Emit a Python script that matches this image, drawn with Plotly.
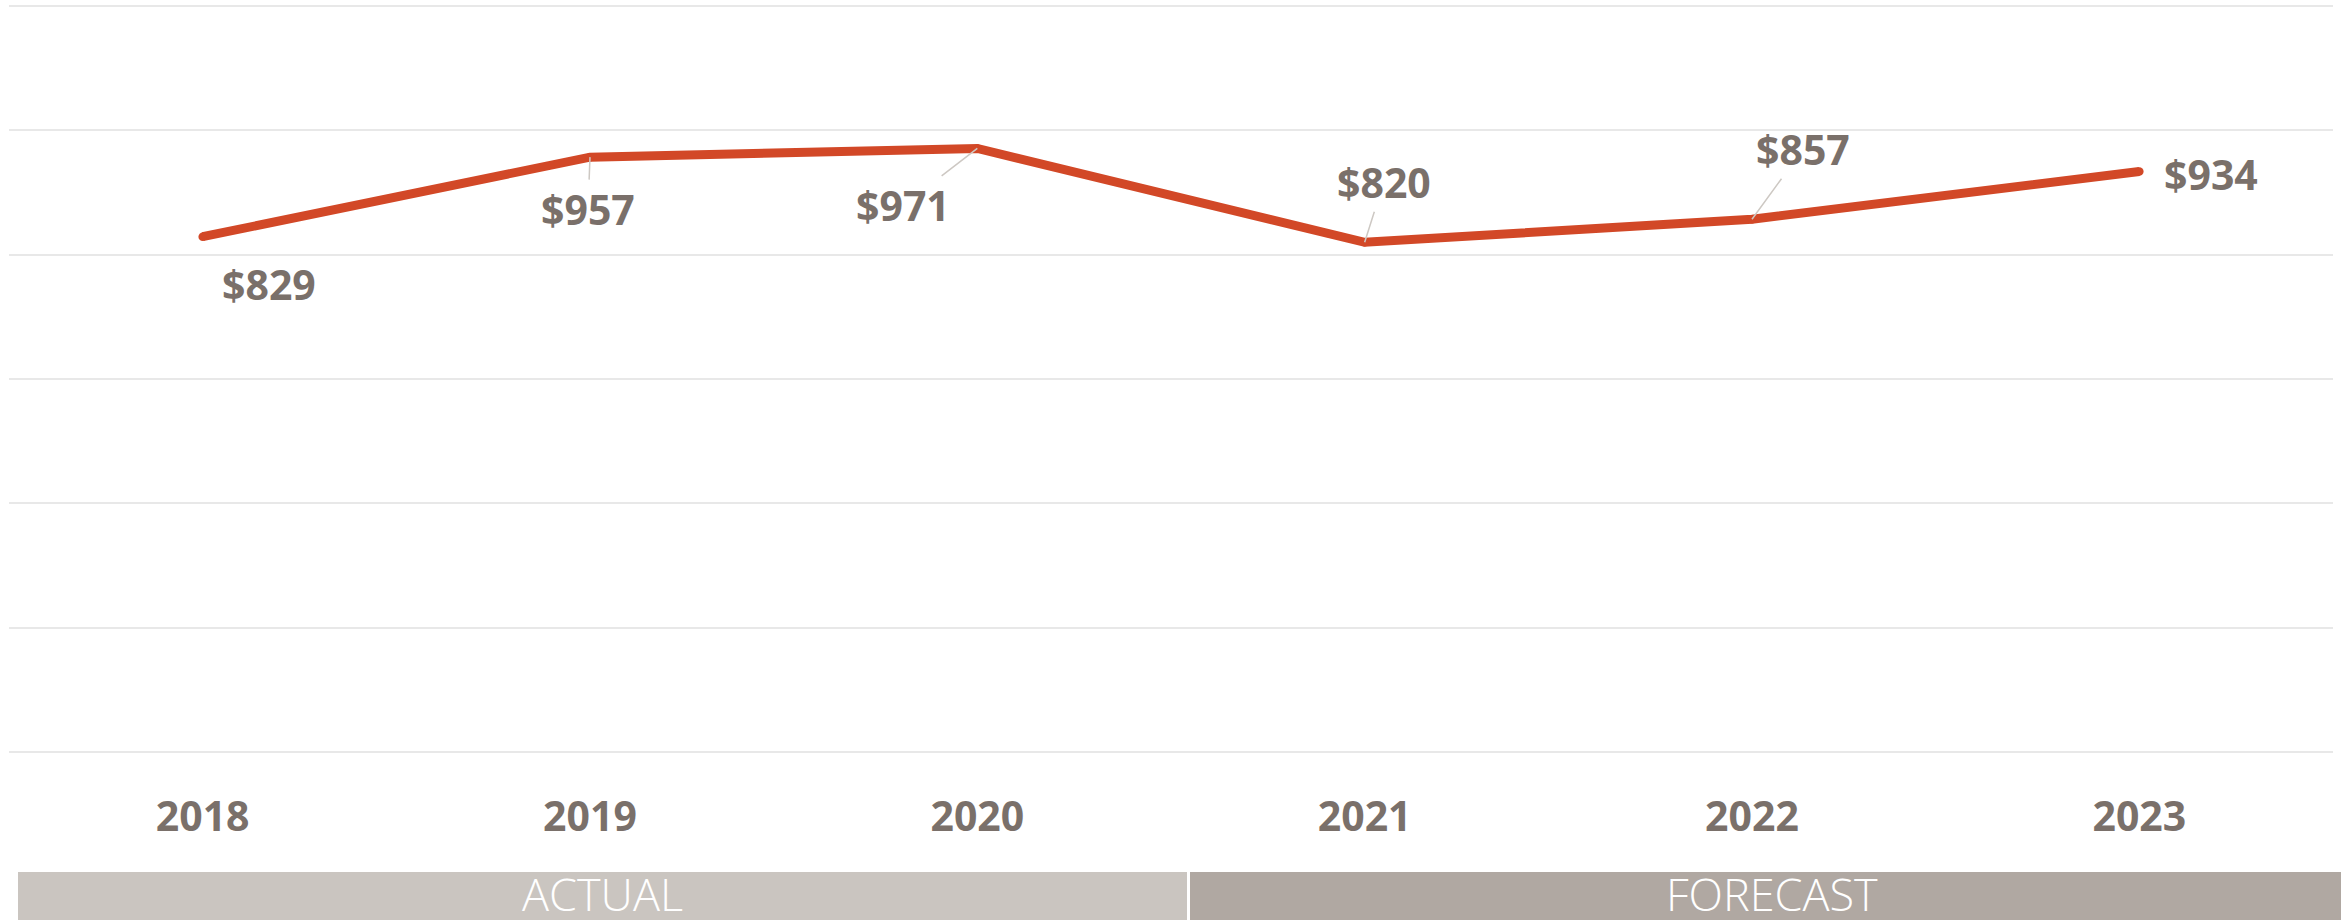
import plotly.graph_objects as go

# ---- data ----
years = ["2018", "2019", "2020", "2021", "2022", "2023"]
values = [829, 957, 971, 820, 857, 934]
y_ticks = [0, 200, 400, 600, 800, 1000, 1200]
period_labels = ["ACTUAL", "FORECAST"]

# ---- styling ----
LINE_COLOR = "#d24827"
TEXT_COLOR = "#7a706a"
GRID_COLOR = "#e8e8e8"
LEADER_COLOR = "#cdc8c3"
FONT = "Open Sans"
# label offsets in pixels (ax, ay) and whether a leader line is drawn
label_offsets = [(66, 47), (-2, 52), (-74, 57), (19, -60), (51, -70), (72, 3)]
leader_lines = [False, True, True, True, True, False]

W, H = 2341, 920
L, R, T, B = 9, 8, 3, 165
plot_w = W - L - R
plot_h = H - T - B
Y_RANGE = [-5, 1205]

def px_to_paper_x(px):
    return (px - L) / plot_w

def px_to_paper_y(py):
    return (H - B - py) / plot_h

xpos = list(range(len(years)))

fig = go.Figure()
fig.add_trace(go.Scatter(
    x=xpos, y=values, mode="lines+markers",
    line=dict(color=LINE_COLOR, width=9),
    marker=dict(color=LINE_COLOR, size=8.5),
    hoverinfo="skip", showlegend=False,
))

annotations = []
for xi, v, (ax, ay), leader in zip(xpos, values, label_offsets, leader_lines):
    annotations.append(dict(
        x=xi, y=v, xref="x", yref="y",
        text=f"${v:,}",
        showarrow=True, ax=ax, ay=ay,
        arrowhead=0, arrowwidth=1.5, standoff=0,
        arrowcolor=LEADER_COLOR if leader else "rgba(0,0,0,0)",
        font=dict(family=FONT, size=41, color=TEXT_COLOR, weight="bold"),
    ))

# period bars (decoration below axis)
bar_specs = [
    (18, 1187, "#cac5c0", 602),
    (1190, 2360, "#b0a8a2", 1772),
]
shapes = []
for (x0, x1, col, tc), lab in zip(bar_specs, period_labels):
    shapes.append(dict(
        type="rect", xref="paper", yref="paper",
        x0=px_to_paper_x(x0), x1=px_to_paper_x(x1),
        y0=px_to_paper_y(872), y1=px_to_paper_y(930),
        fillcolor=col, line=dict(width=0), layer="below",
    ))
    annotations.append(dict(
        x=px_to_paper_x(tc), y=px_to_paper_y(893), xref="paper", yref="paper",
        text=lab, showarrow=False, xanchor="center", yanchor="middle",
        font=dict(family=FONT, size=45, color="#ffffff", weight=300),
    ))

fig.update_layout(
    width=W, height=H,
    margin=dict(l=L, r=R, t=T, b=B, pad=0),
    paper_bgcolor="white", plot_bgcolor="white",
    annotations=annotations, shapes=shapes,
    xaxis=dict(
        range=[-0.5, 5.5], tickvals=xpos, ticktext=years,
        showgrid=False, zeroline=False, showline=False,
        ticks="outside", ticklen=26, tickcolor="rgba(0,0,0,0)",
        tickfont=dict(family=FONT, size=41, color=TEXT_COLOR, weight="bold"),
        fixedrange=True,
    ),
    yaxis=dict(
        range=Y_RANGE, tickvals=y_ticks, showticklabels=False,
        showgrid=True, gridcolor=GRID_COLOR, gridwidth=2,
        zeroline=False, showline=False, fixedrange=True,
    ),
)

fig.write_html(
    "out.html",
    config={"displayModeBar": False},
    post_script="document.body.style.margin='0';document.body.style.overflow='hidden';",
)
